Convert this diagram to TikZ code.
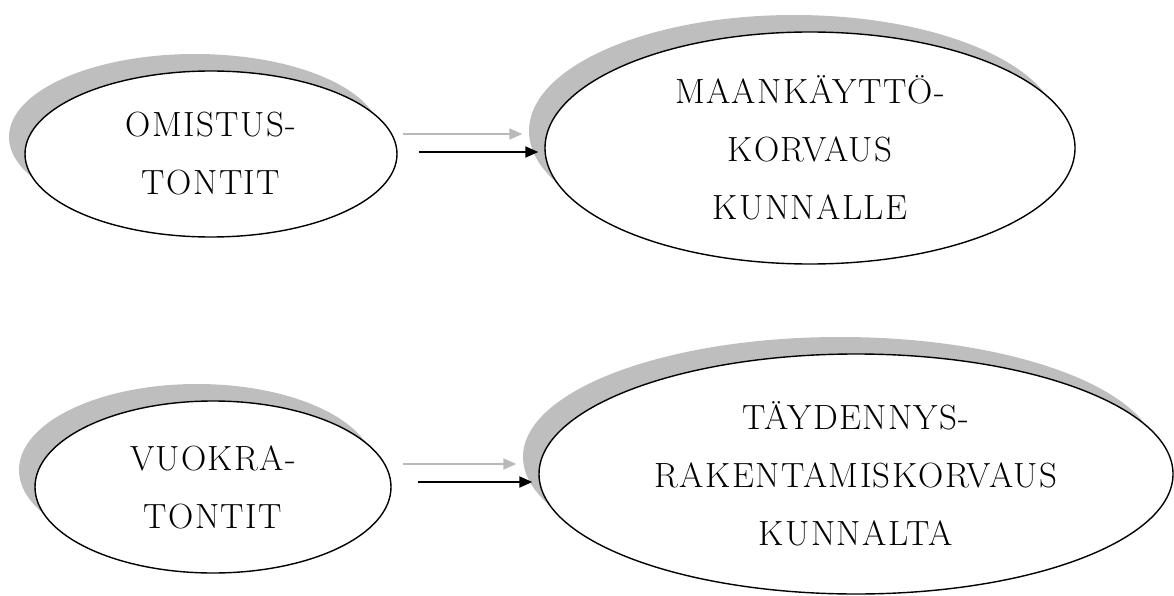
\documentclass[tikz,border=0pt]{standalone}
\usepackage{fontspec}
\usepackage{xcolor}
\usetikzlibrary{arrows.meta,shapes.geometric,shadows}
\newfontfamily\blobfont{Latin Modern Roman}[LetterSpace=4]
\definecolor{shadowgrey}{RGB}{190,190,190}
\definecolor{arrowgrey}{RGB}{185,185,185}

\begin{document}
\begin{tikzpicture}[
  x=1pt,y=-1pt,
  blob/.style={ellipse,draw,line width=1.4pt,fill=white,inner sep=0pt,align=center,
    font=\blobfont\fontsize{35}{58}\selectfont,
    drop shadow={shadow xshift=-16pt,shadow yshift=17pt,fill=shadowgrey,opacity=1}},
  darr/.style={-{Triangle[length=13pt,width=11pt]},line width=2pt,black},
  garr/.style={-{Triangle[length=13pt,width=11pt]},line width=2pt,arrowgrey}
]
  \useasboundingbox (0,0) rectangle (1174,596);

  \node[blob,minimum width=372pt,minimum height=166pt] (own) at (211,154)
    {OMISTUS-\\TONTIT};
  \node[blob,minimum width=530pt,minimum height=232pt] (fee) at (810,148)
    {MAANKÄYTTÖ-\\KORVAUS\\KUNNALLE};
  \node[blob,minimum width=356pt,minimum height=172pt] (rent) at (213,487)
    {VUOKRA-\\TONTIT};
  \node[blob,minimum width=634pt,minimum height=240pt] (comp) at (856,474)
    {TÄYDENNYS-\\RAKENTAMISKORVAUS\\KUNNALTA};

  \draw[garr] ([shift={(5,-20)}]own.east) -- ([shift={(-22,-20)}]own.east -| fee.west);
  \draw[darr] ([shift={(21,-2)}]own.east) -- ([shift={(-6,-2)}]own.east -| fee.west);

  \draw[garr] ([shift={(11,-23)}]rent.east) -- ([shift={(-22,-23)}]rent.east -| comp.west);
  \draw[darr] ([shift={(26,-5)}]rent.east) -- ([shift={(-6,-5)}]rent.east -| comp.west);
\end{tikzpicture}
\end{document}
